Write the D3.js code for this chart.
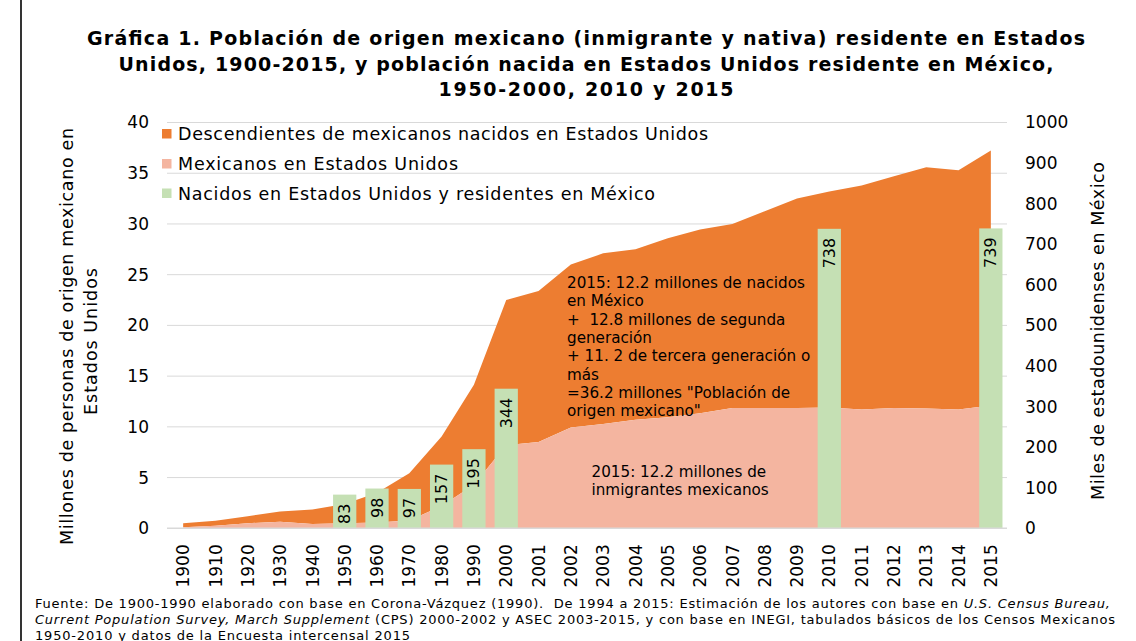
<!DOCTYPE html>
<html>
<head>
<meta charset="utf-8">
<script src="https://cdn.jsdelivr.net/npm/d3@7/dist/d3.min.js"></script>
<style>
  html, body { margin: 0; padding: 0; background: #fff; }
  svg { display: block; }
  text { font-family: "DejaVu Sans", Verdana, sans-serif; fill: #000; white-space: pre; }
</style>
</head>
<body>
<svg id="chart" width="1136" height="641"></svg>
<script>
// ---------------- data ----------------
const categories = ["1900","1910","1920","1930","1940","1950","1960","1970","1980","1990","2000",
  "2001","2002","2003","2004","2005","2006","2007","2008","2009","2010","2011","2012","2013","2014","2015"];
// Mexicanos en Estados Unidos (millones)
const mexicanos = [0.1,0.25,0.5,0.65,0.42,0.5,0.58,0.76,2.2,4.3,8.2,
  8.5,9.93,10.27,10.7,10.95,11.35,11.85,11.85,11.85,11.9,11.7,11.85,11.8,11.7,12.1];
// Descendientes de mexicanos nacidos en Estados Unidos (millones)
const descendientes = [0.4,0.5,0.7,1.0,1.43,1.9,2.92,4.67,6.85,9.85,14.3,
  14.9,16.07,16.83,16.8,17.65,18.1,18.15,19.4,20.65,21.3,22.1,22.85,23.8,23.6,25.15];
// Nacidos en Estados Unidos y residentes en México (miles)
const barCategories = ["1950","1960","1970","1980","1990","2000","2010","2015"];
const barValues = [83,98,97,157,195,344,738,739];

const leftTicks = [0,5,10,15,20,25,30,35,40];
const rightTicks = [0,100,200,300,400,500,600,700,800,900,1000];

const seriesNames = ["Descendientes de mexicanos nacidos en Estados Unidos",
  "Mexicanos en Estados Unidos",
  "Nacidos en Estados Unidos y residentes en México"];
const seriesColors = ["#ED7D31","#F4B5A0","#C5E0B4"];

const titleLines = ["Gráfica 1. Población de origen mexicano (inmigrante y nativa) residente en Estados",
  "Unidos, 1900-2015, y población nacida en Estados Unidos residente en México,",
  "1950-2000, 2010 y 2015"];
const leftTitle = ["Millones de personas de origen mexicano en", "Estados Unidos"];
const rightTitle = "Miles de estadounidenses en México";
const note1 = ["2015: 12.2 millones de nacidos","en México","+  12.8 millones de segunda","generación",
  "+ 11. 2 de tercera generación o","más","=36.2 millones \"Población de","origen mexicano\""];
const note2 = ["2015: 12.2 millones de","inmigrantes mexicanos"];

// ---------------- layout ----------------
const svg = d3.select("#chart");
const L = 167, R = 1007, B = 528.3, T = 122.5;

svg.append("rect").attr("width",1136).attr("height",641).attr("fill","#fff");
svg.append("line").attr("x1",21).attr("x2",21).attr("y1",0).attr("y2",641)
  .attr("stroke","#000").attr("stroke-width",1.6);

const x = d3.scaleBand().domain(categories).range([L,R]).paddingInner(0.28).paddingOuter(0.14);
const cx = c => x(c) + x.bandwidth()/2;
const yL = d3.scaleLinear().domain([0,40]).range([B,T]);
const yR = d3.scaleLinear().domain([0,1000]).range([B,T]);

// gridlines
svg.append("g").selectAll("line").data(leftTicks.filter(d=>d>0)).join("line")
  .attr("x1",L).attr("x2",R).attr("y1",d=>yL(d)).attr("y2",d=>yL(d))
  .attr("stroke","#D9D9D9").attr("stroke-width",1);

// stacked areas
const table = categories.map((c,i)=>({cat:c, mex:mexicanos[i], desc:descendientes[i]}));
const stack = d3.stack().keys(["mex","desc"])(table);
const area = d3.area().x(d=>cx(d.data.cat)).y0(d=>yL(d[0])).y1(d=>yL(d[1]));
svg.append("path").datum(stack[1]).attr("d",area).attr("fill",seriesColors[0]);
svg.append("path").datum(stack[0]).attr("d",area).attr("fill",seriesColors[1]);

// bars
const bars = barCategories.map((c,i)=>({cat:c, v:barValues[i]}));
svg.append("g").selectAll("rect").data(bars).join("rect")
  .attr("x",d=>x(d.cat)).attr("width",x.bandwidth())
  .attr("y",d=>yR(d.v)).attr("height",d=>B-yR(d.v))
  .attr("fill",seriesColors[2]);
svg.append("g").selectAll("text").data(bars).join("text")
  .attr("transform",d=>`translate(${cx(d.cat)},${yR(d.v)+9}) rotate(-90)`)
  .attr("text-anchor","end").attr("dominant-baseline","central")
  .style("font-size","16px").text(d=>d.v);

// axis line
svg.append("line").attr("x1",L).attr("x2",R).attr("y1",B).attr("y2",B)
  .attr("stroke","#D9D9D9").attr("stroke-width",1.5);

// axes
const gl = svg.append("g").attr("transform",`translate(${L},0)`)
  .call(d3.axisLeft(yL).tickValues(leftTicks).tickSize(0).tickPadding(18));
const gr = svg.append("g").attr("transform",`translate(${R},0)`)
  .call(d3.axisRight(yR).tickValues(rightTicks).tickFormat(d3.format("d")).tickSize(0).tickPadding(18));
const gb = svg.append("g").attr("transform",`translate(0,${B})`)
  .call(d3.axisBottom(x).tickSize(0));
[gl,gr,gb].forEach(g=>{
  g.select(".domain").remove();
  g.selectAll("text").style("font-size","17px").style("font-family","DejaVu Sans").attr("fill","#000");
});
gb.selectAll("text").attr("transform","rotate(-90)").attr("x",-16).attr("y",0)
  .attr("dy","0.36em").style("text-anchor","end");

// legend
const lg = svg.append("g");
const legY = [140,170,199.5];
const legW = [530,280,477];
seriesNames.forEach((n,i)=>{
  lg.append("rect").attr("x",162).attr("y",legY[i]-11).attr("width",9.5).attr("height",9.5)
    .attr("fill",seriesColors[i]);
  lg.append("text").attr("x",178).attr("y",legY[i]).style("font-size","17.5px")
    .attr("textLength",legW[i]).attr("lengthAdjust","spacing").text(n);
});

// titles
const tY = [44.5,70.5,95.5];
const tW = [998,935,295];
titleLines.forEach((t,i)=>{
  svg.append("text").attr("x",586 - tW[i]/2).attr("y",tY[i])
    .attr("textLength",tW[i]).attr("lengthAdjust","spacing")
    .style("font-size","19px").style("font-weight","bold").text(t);
});
function vtext(cxp, cyp, len, txt){
  svg.append("text").attr("transform",`translate(${cxp},${cyp}) rotate(-90)`)
    .attr("x",-len/2).attr("dominant-baseline","central")
    .attr("textLength",len).attr("lengthAdjust","spacing")
    .style("font-size","17.5px").text(txt);
}
vtext(67,336.5,417,leftTitle[0]);
vtext(91,341.5,147,leftTitle[1]);
vtext(1098,331,338,rightTitle);

// annotations
note1.forEach((t,i)=>{
  svg.append("text").attr("x",567).attr("y",288+i*18.3).style("font-size","15.2px").text(t);
});
note2.forEach((t,i)=>{
  svg.append("text").attr("x",591.5).attr("y",476.7+i*18.3).style("font-size","15.2px").text(t);
});

// footer
const f1 = svg.append("text").attr("x",35).attr("y",608).style("font-size","13px")
  .attr("textLength",1075).attr("lengthAdjust","spacing");
f1.append("tspan").text("Fuente: De 1900-1990 elaborado con base en Corona-Vázquez (1990).  De 1994 a 2015: Estimación de los autores con base en ");
f1.append("tspan").style("font-style","italic").text("U.S. Census Bureau,");
const f2 = svg.append("text").attr("x",35).attr("y",623.5).style("font-size","13px")
  .attr("textLength",1080).attr("lengthAdjust","spacing");
f2.append("tspan").style("font-style","italic").text("Current Population Survey, March Supplement");
f2.append("tspan").text(" (CPS) 2000-2002 y ASEC 2003-2015, y con base en INEGI, tabulados básicos de los Censos Mexicanos");
svg.append("text").attr("x",35).attr("y",639.5).style("font-size","13px")
  .attr("textLength",375).attr("lengthAdjust","spacing")
  .text("1950-2010 y datos de la Encuesta intercensal 2015");
</script>
</body>
</html>
